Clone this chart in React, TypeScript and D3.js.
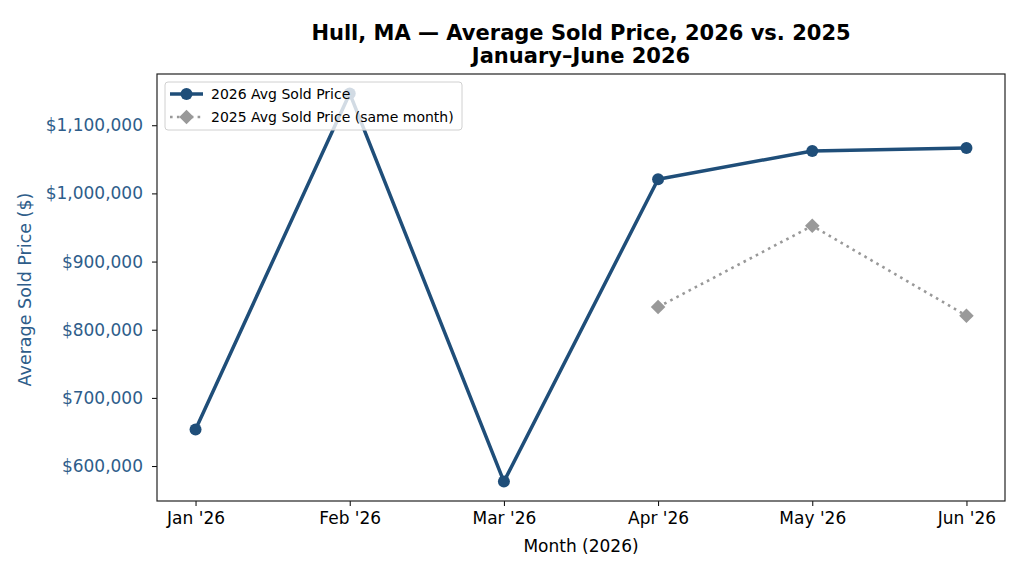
import { useEffect, useRef } from "react";
import * as d3 from "d3";

const months = ["Jan '26", "Feb '26", "Mar '26", "Apr '26", "May '26", "Jun '26"];
const price2026 = [653700, 1146700, 577200, 1020800, 1062200, 1066600];
const price2025: (number | null)[] = [null, null, null, 833400, 952400, 820600];

const W = 1024;
const H = 576;
const FONT = "'DejaVu Sans', sans-serif";
const BLUE = "#1f4e79";
const LABEL_BLUE = "#2e5d8a";
const GREY = "#999999";

const App: React.FC = () => {
  const ref = useRef<SVGSVGElement>(null);

  useEffect(() => {
    const margin = { top: 74, right: 19, bottom: 75, left: 157 };
    const svg = d3.select(ref.current).html("");
    svg.append("rect").attr("width", W).attr("height", H).attr("fill", "#fff");

    const x = d3
      .scalePoint<string>()
      .domain(months)
      .range([margin.left, W - margin.right])
      .padding(0.25);

    // matplotlib style 5% padding on the data range
    const all = [...price2026, ...(price2025.filter((d) => d != null) as number[])];
    const lo = d3.min(all)!;
    const hi = d3.max(all)!;
    const pad = (hi - lo) * 0.05;
    const y = d3
      .scaleLinear()
      .domain([lo - pad, hi + pad])
      .range([H - margin.bottom, margin.top]);

    const cx = (margin.left + W - margin.right) / 2;

    // Title
    const title = svg
      .append("text")
      .attr("text-anchor", "middle")
      .style("font-family", FONT)
      .style("font-weight", "bold")
      .style("font-size", "21px");
    title.append("tspan").attr("x", cx).attr("y", 40).text("Hull, MA \u2014 Average Sold Price, 2026 vs. 2025");
    title.append("tspan").attr("x", cx).attr("y", 63).text("January\u2013June 2026");

    // X axis
    const xAxis = svg
      .append("g")
      .attr("transform", `translate(0,${H - margin.bottom})`)
      .call(d3.axisBottom(x).tickSize(5).tickSizeOuter(0).tickPadding(6));
    xAxis.select(".domain").remove();
    xAxis.selectAll("text").style("font-family", FONT).style("font-size", "17px").attr("fill", "#000");
    xAxis.selectAll("line").attr("stroke", "#000");

    // Y axis
    const yAxis = svg
      .append("g")
      .attr("transform", `translate(${margin.left},0)`)
      .call(
        d3
          .axisLeft(y)
          .ticks(6)
          .tickSize(5)
          .tickPadding(9)
          .tickFormat((d) => "$" + d3.format(",")(d as number))
      );
    yAxis.select(".domain").remove();
    yAxis.selectAll("text").style("font-family", FONT).style("font-size", "17px").attr("fill", LABEL_BLUE);
    yAxis.selectAll("line").attr("stroke", "#000");

    // Frame
    svg
      .append("rect")
      .attr("x", margin.left)
      .attr("y", margin.top)
      .attr("width", W - margin.right - margin.left)
      .attr("height", H - margin.bottom - margin.top)
      .attr("fill", "none")
      .attr("stroke", "#222")
      .attr("stroke-width", 1.2);

    // Axis labels
    svg
      .append("text")
      .attr("x", cx)
      .attr("y", 552)
      .attr("text-anchor", "middle")
      .style("font-family", FONT)
      .style("font-size", "17px")
      .text("Month (2026)");
    svg
      .append("text")
      .attr("transform", `translate(31,${(margin.top + H - margin.bottom) / 2 + 2}) rotate(-90)`)
      .attr("text-anchor", "middle")
      .style("font-family", FONT)
      .style("font-size", "17.5px")
      .attr("fill", LABEL_BLUE)
      .text("Average Sold Price ($)");

    // 2025 dotted line
    const line25 = d3
      .line<number | null>()
      .defined((d) => d != null)
      .x((_, i) => x(months[i])!)
      .y((d) => y(d as number));
    svg
      .append("path")
      .datum(price2025)
      .attr("d", line25)
      .attr("fill", "none")
      .attr("stroke", GREY)
      .attr("stroke-width", 2.6)
      .attr("stroke-dasharray", "2.6,4.3");
    const diamond = d3.symbol().type(d3.symbolDiamond2).size(135);
    svg
      .selectAll(".m25")
      .data(price2025.map((v, i) => ({ v, m: months[i] })).filter((d) => d.v != null))
      .enter()
      .append("path")
      .attr("d", diamond)
      .attr("transform", (d) => `translate(${x(d.m)},${y(d.v as number)})`)
      .attr("fill", GREY);

    // 2026 line
    const line26 = d3
      .line<number>()
      .x((_, i) => x(months[i])!)
      .y((d) => y(d));
    svg
      .append("path")
      .datum(price2026)
      .attr("d", line26)
      .attr("fill", "none")
      .attr("stroke", BLUE)
      .attr("stroke-width", 3.5)
      .attr("stroke-linejoin", "round");
    svg
      .selectAll(".m26")
      .data(price2026)
      .enter()
      .append("circle")
      .attr("cx", (_, i) => x(months[i])!)
      .attr("cy", (d) => y(d))
      .attr("r", 6)
      .attr("fill", BLUE);

    // Legend
    const lg = svg.append("g").attr("transform", "translate(165,82)");
    lg.append("rect")
      .attr("width", 297)
      .attr("height", 48)
      .attr("rx", 3)
      .attr("fill", "#fff")
      .attr("fill-opacity", 0.8)
      .attr("stroke", "#d0d0d0");
    lg.append("line").attr("x1", 5).attr("x2", 38).attr("y1", 12).attr("y2", 12).attr("stroke", BLUE).attr("stroke-width", 3.5);
    lg.append("circle").attr("cx", 21.5).attr("cy", 12).attr("r", 6).attr("fill", BLUE);
    lg.append("line")
      .attr("x1", 5)
      .attr("x2", 38)
      .attr("y1", 35)
      .attr("y2", 35)
      .attr("stroke", GREY)
      .attr("stroke-width", 2.6)
      .attr("stroke-dasharray", "2.6,4.3");
    lg.append("path").attr("d", diamond).attr("transform", "translate(21.5,35)").attr("fill", GREY);
    const legendText = ["2026 Avg Sold Price", "2025 Avg Sold Price (same month)"];
    lg.selectAll(".lt")
      .data(legendText)
      .enter()
      .append("text")
      .attr("x", 46)
      .attr("y", (_, i) => 12 + i * 23)
      .attr("dy", "0.35em")
      .style("font-family", FONT)
      .style("font-size", "14px")
      .text((d) => d);
  }, []);

  return (
    <svg
      ref={ref}
      width={W}
      height={H}
      style={{ position: "absolute", left: 0, top: 0, display: "block" }}
    />
  );
};

export default App;
